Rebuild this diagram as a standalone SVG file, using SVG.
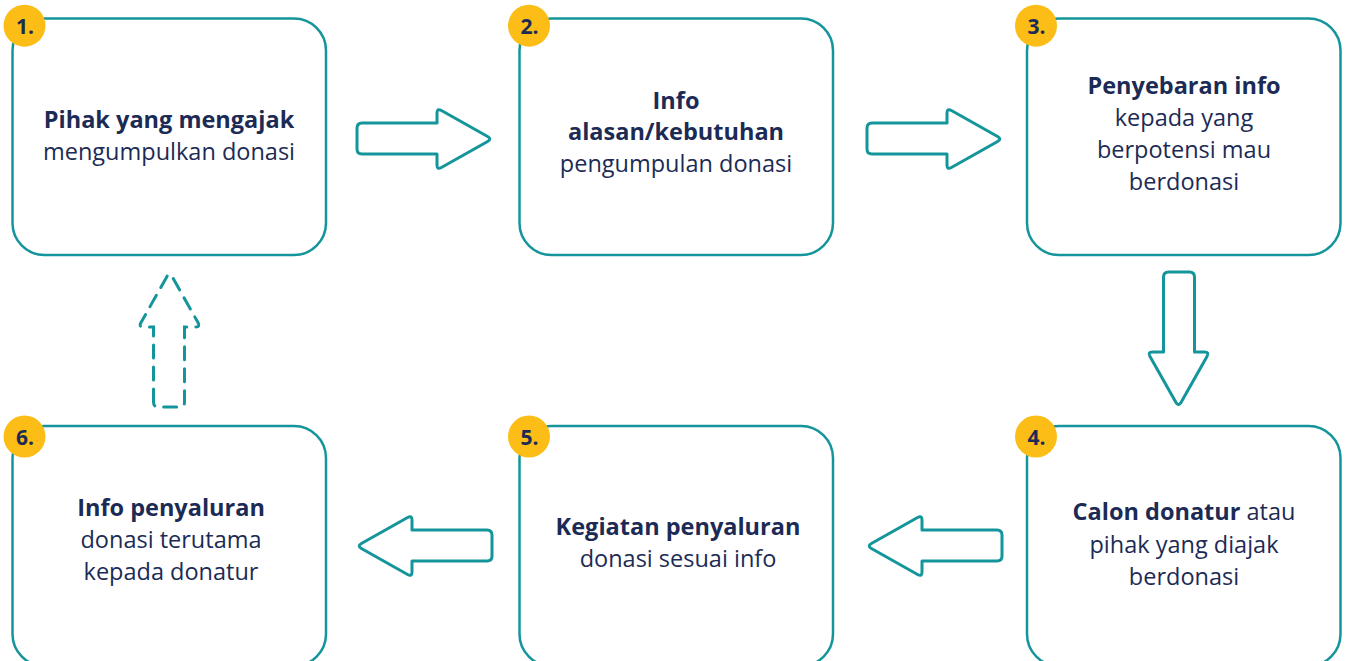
<svg xmlns="http://www.w3.org/2000/svg" width="1347" height="661" viewBox="0 0 1347 661">
<style>
.box{fill:#fff;stroke:#14959c;stroke-width:2.5}
.arr{fill:#fff;stroke:#14959c;stroke-width:3;stroke-linejoin:round}
.dash{fill:none;stroke:#14959c;stroke-width:3;stroke-dasharray:13 9;stroke-linecap:round}
.badge{fill:#fbbd16}
.num{font-family:"Open Sans","Liberation Sans",sans-serif;font-weight:700;font-size:21px;fill:#1c2b55;text-anchor:middle}
.t{font-family:"Open Sans","Liberation Sans",sans-serif;font-size:23.5px;fill:#1c2b55;text-anchor:middle}
.b{font-weight:700}
</style>
<defs>
<path id="ra" d="M 362,123 L 437,123 L 437,113 Q 437,108 441.4,110.5 L 487.6,136.5 Q 492,139 487.6,141.5 L 441.4,167.5 Q 437,170 437,165 L 437,154 L 362,154 Q 357,154 357,149 L 357,128 Q 357,123 362,123 Z"/>
</defs>
<rect width="1347" height="661" fill="#fff"/>
<g id="connectors">
<use href="#ra" class="arr"/>
<use href="#ra" class="arr" transform="translate(510,0)"/>
<use href="#ra" class="arr" transform="translate(1317.5,-85) rotate(90)"/>
<use href="#ra" class="arr" transform="translate(1359,407) scale(-1,1)"/>
<use href="#ra" class="arr" transform="translate(849,407) scale(-1,1)"/>
<use href="#ra" class="dash" transform="translate(30.5,764) rotate(-90)"/>
</g>
<g id="node1">
<rect class="box" x="12.5" y="18.5" width="313.5" height="236.5" rx="32"/>
<circle class="badge" cx="24.5" cy="25.7" r="21"/>
<text class="num" x="25" y="33.5">1.</text>
<text class="t" x="169" y="128"><tspan class="b">Pihak yang mengajak</tspan></text>
<text class="t" x="169" y="160">mengumpulkan donasi</text>
</g>
<g id="node2">
<rect class="box" x="519.5" y="18.5" width="313.5" height="236.5" rx="32"/>
<circle class="badge" cx="529" cy="25.7" r="21"/>
<text class="num" x="529.5" y="33.5">2.</text>
<text class="t b" x="676" y="109">Info</text>
<text class="t b" x="676" y="140">alasan/kebutuhan</text>
<text class="t" x="676" y="172">pengumpulan donasi</text>
</g>
<g id="node3">
<rect class="box" x="1027" y="18.5" width="313.5" height="236.5" rx="32"/>
<circle class="badge" cx="1036" cy="25.7" r="21"/>
<text class="num" x="1036.5" y="33.5">3.</text>
<text class="t b" x="1184" y="94">Penyebaran info</text>
<text class="t" x="1184" y="126">kepada yang</text>
<text class="t" x="1184" y="158">berpotensi mau</text>
<text class="t" x="1184" y="190">berdonasi</text>
</g>
<g id="node4">
<rect class="box" x="1027" y="426" width="313.5" height="240" rx="32"/>
<circle class="badge" cx="1036" cy="436.5" r="21"/>
<text class="num" x="1036.5" y="444.5">4.</text>
<text class="t" x="1184" y="520"><tspan class="b">Calon donatur</tspan> atau</text>
<text class="t" x="1184" y="553">pihak yang diajak</text>
<text class="t" x="1184" y="585">berdonasi</text>
</g>
<g id="node5">
<rect class="box" x="519.5" y="426" width="313.5" height="240" rx="32"/>
<circle class="badge" cx="529" cy="436.5" r="21"/>
<text class="num" x="529.5" y="444.5">5.</text>
<text class="t b" x="678" y="535">Kegiatan penyaluran</text>
<text class="t" x="678" y="567">donasi sesuai info</text>
</g>
<g id="node6">
<rect class="box" x="12.5" y="426" width="313.5" height="240" rx="32"/>
<circle class="badge" cx="24.5" cy="436.5" r="21"/>
<text class="num" x="25" y="444.5">6.</text>
<text class="t b" x="171" y="516">Info penyaluran</text>
<text class="t" x="171" y="548">donasi terutama</text>
<text class="t" x="171" y="580">kepada donatur</text>
</g>
</svg>
